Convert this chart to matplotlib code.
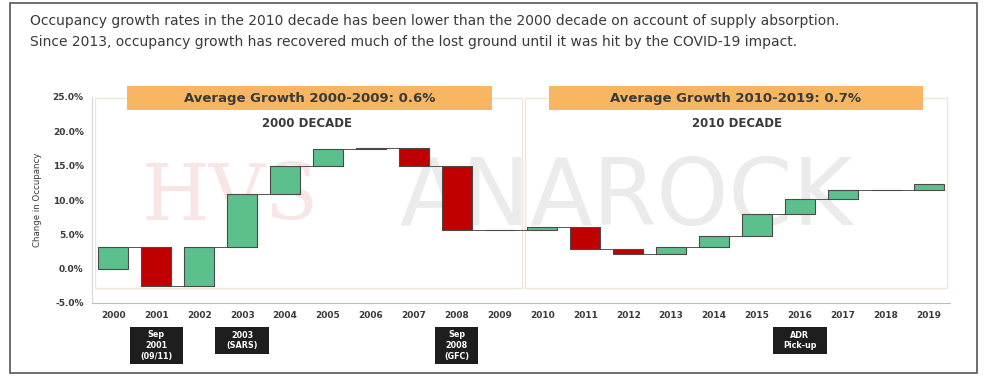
import numpy as np
import matplotlib
matplotlib.use('Agg')
import matplotlib.pyplot as plt
from matplotlib.patches import Rectangle
import matplotlib.transforms as mtransforms

plt.rcParams['font.family'] = ['DejaVu Sans']

# 年份与年度变化（百分点）
years = [str(y) for y in range(2000, 2020)]
changes = [3.2, -5.7, 5.7, 7.7, 4.1, 2.5, 0.1, -2.7, -9.3, 0.0,
           0.4, -3.1, -0.7, 0.9, 1.6, 3.3, 2.1, 1.3, 0.1, 0.8]
y_ticks = [-5, 0, 5, 10, 15, 20, 25]

title_lines = ["Occupancy growth rates in the 2010 decade has been lower than the 2000 decade on account of supply absorption.",
               "Since 2013, occupancy growth has recovered much of the lost ground until it was hit by the COVID-19 impact."]
avg_labels = ["Average Growth 2000-2009: 0.6%", "Average Growth 2010-2019: 0.7%"]
decade_labels = ["2000 DECADE", "2010 DECADE"]
event_pos = [1, 3, 8, 16]
event_labels = ["Sep\n2001\n(09/11)", "2003\n(SARS)", "Sep\n2008\n(GFC)", "ADR\nPick-up"]

GREEN = '#5cc08c'
RED = '#c00000'
TXT = '#3a3a3a'

fig = plt.figure(figsize=(9.87, 3.9), dpi=100)
fig.patch.set_facecolor('white')

# 外框
fig.patches.append(Rectangle((10 / 987, 1 - 373 / 390), 967 / 987, 370 / 390,
                             transform=fig.transFigure, fill=False,
                             edgecolor='#555555', linewidth=1.2))

fig.text(30 / 987, 1 - 21 / 390, title_lines[0], fontsize=10, color=TXT, va='center')
fig.text(30 / 987, 1 - 42 / 390, title_lines[1], fontsize=10, color=TXT, va='center')

ax = fig.add_axes([92 / 987, 1 - 303 / 390, 858 / 987, 206 / 390])
x = np.arange(len(years))
vals = np.array(changes)
ends = np.cumsum(vals)
starts = ends - vals
colors = [GREEN if v >= 0 else RED for v in vals]

ax.set_xlim(-0.5, 19.5)
ax.set_ylim(-5, 25)

# 水印
ax.text(2.72, 10.3, "HVS", fontsize=56, family='DejaVu Serif', color='#f8e6e6',
        ha='center', va='center', zorder=0)
ax.text(11.95, 10.2, "ANAROCK", fontsize=66, color='#ebebeb',
        ha='center', va='center', zorder=0)

# 年代面板
for x0, x1 in [(-0.43, 9.52), (9.59, 19.43)]:
    ax.add_patch(Rectangle((x0, -2.8), x1 - x0, 27.7, fill=False,
                           edgecolor='#f1e6d6', linewidth=1.0, zorder=1))

ax.bar(x, vals, bottom=starts, width=0.7, color=colors,
       edgecolor='#4a4a4a', linewidth=0.8, zorder=3)

# 连接线
for i in range(len(x) - 1):
    ax.plot([x[i] - 0.35, x[i + 1] + 0.35], [ends[i], ends[i]],
            color='#555555', linewidth=0.7, zorder=2)

ax.set_yticks(y_ticks)
ax.set_yticklabels([f"{t:.1f}%" for t in y_ticks], fontsize=6.5, color=TXT, fontweight='bold')
ax.set_xticks(x)
ax.set_xticklabels(years, fontsize=6.5, color=TXT, fontweight='bold')
ax.tick_params(axis='both', length=0, pad=6)
ax.set_ylabel("Change in Occupancy", fontsize=6.2, color=TXT, labelpad=8)
for s in ['top', 'right']:
    ax.spines[s].set_visible(False)
ax.spines['left'].set_color('#d8d8d8')
ax.spines['bottom'].set_color('#bdbdbd')

# 平均增长橙色框
for (x0, x1), lab in zip([(0.32, 8.82), (10.15, 18.87)], avg_labels):
    ax.add_patch(Rectangle((x0, 23.1), x1 - x0, 3.5, facecolor='#f8b662',
                           edgecolor='none', clip_on=False, zorder=4))
    ax.text((x0 + x1) / 2, 24.85, lab, fontsize=9.5, color=TXT, fontweight='bold',
            ha='center', va='center', zorder=5)
ax.text(4.51, 21.2, decade_labels[0], fontsize=8.5, color=TXT, fontweight='bold', ha='center', va='center')
ax.text(14.53, 21.2, decade_labels[1], fontsize=8.5, color=TXT, fontweight='bold', ha='center', va='center')

# 事件标签（x 为数据坐标，y 为轴比例）
trans = mtransforms.blended_transform_factory(ax.transData, ax.transAxes)
for i, lab in zip(event_pos, event_labels):
    nlines = lab.count('\n') + 1
    w = 1.0 if i == 8 else 1.25
    h = 0.18 if nlines == 3 else 0.13
    ax.add_patch(Rectangle((i - w / 2, -0.1165 - h), w, h, transform=trans,
                           facecolor='#1e1e1e', edgecolor='none', clip_on=False, zorder=5))
    ax.text(i, -0.1165 - h / 2, lab, transform=trans, ha='center', va='center',
            fontsize=5.8, color='white', fontweight='bold', linespacing=1.25, zorder=6)

fig.savefig('out.png', dpi=100)
